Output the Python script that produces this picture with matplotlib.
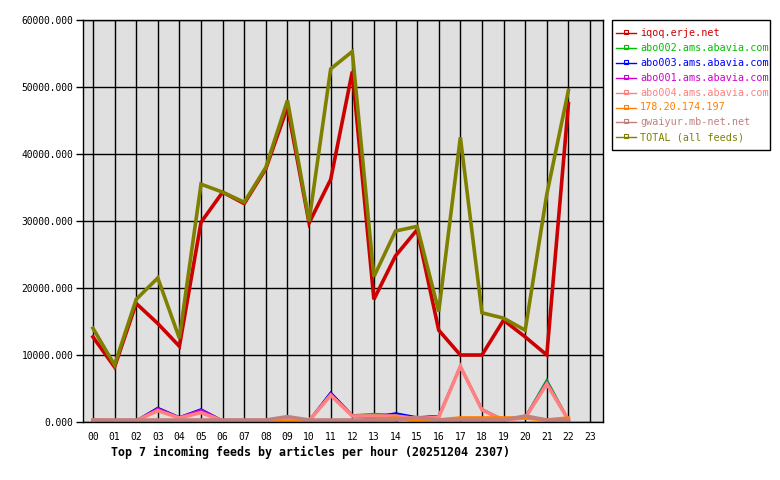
import matplotlib
matplotlib.use("Agg")
import matplotlib.pyplot as plt
from matplotlib.ticker import FixedLocator
from matplotlib.lines import Line2D
from matplotlib.patches import Rectangle

hours = list(range(23))
hour_labels = [f"{h:02d}" for h in range(24)]

iqoq = [12700, 8200, 17700, 14700, 11300, 29800, 34300, 32600, 37800, 47000, 29700, 36200,
        52300, 18300, 24800, 28700, 13700, 10000, 10000, 15200, 12700, 10000, 47500]
abo002 = [300, 200, 200, 2100, 700, 1800, 200, 200, 200, 300, 200, 4300,
          1000, 1200, 1100, 600, 800, 8300, 1900, 300, 700, 6300, 300]
abo003 = [300, 200, 200, 2100, 700, 1900, 200, 200, 200, 300, 200, 4400,
          1000, 700, 1300, 700, 900, 8300, 1900, 300, 700, 6000, 300]
abo001 = [300, 200, 200, 2000, 700, 1800, 200, 200, 200, 300, 200, 4200,
          900, 500, 800, 600, 900, 8200, 1800, 300, 700, 5900, 300]
abo004 = [300, 200, 200, 1700, 600, 1400, 200, 200, 200, 300, 200, 4000,
          900, 900, 900, 500, 700, 8300, 1800, 300, 600, 5700, 300]
ip178 = [0, 0, 0, 0, 0, 0, 0, 0, 0, 50, 50, 100,
         100, 300, 600, 200, 300, 600, 600, 600, 600, 300, 600]
gwaiyur = [300, 300, 300, 300, 300, 300, 300, 300, 300, 800, 300, 300,
           300, 300, 300, 700, 300, 300, 300, 300, 900, 300, 300]
total = [14000, 8500, 18300, 21500, 12500, 35500, 34300, 32800, 38000, 48000, 30000, 52700,
         55300, 21700, 28500, 29200, 16500, 42500, 16300, 15500, 13700, 34000, 49500]

series = [
    ("iqoq.erje.net", iqoq, "#cc0000", 2.6),
    ("abo002.ams.abavia.com", abo002, "#00c000", 1.6),
    ("abo003.ams.abavia.com", abo003, "#0000ff", 1.6),
    ("abo001.ams.abavia.com", abo001, "#d000d0", 1.6),
    ("abo004.ams.abavia.com", abo004, "#ff8080", 2.6),
    ("178.20.174.197", ip178, "#ff8000", 2.6),
    ("gwaiyur.mb-net.net", gwaiyur, "#c08080", 2.6),
    ("TOTAL (all feeds)", total, "#808000", 2.6),
]

W, H = 780, 480
mono = "DejaVu Sans Mono"
fig = plt.figure(figsize=(7.8, 4.8), dpi=100)
ax = fig.add_axes([83/W, 1-422/H, (603-83)/W, (422-20)/H])
ax.set_facecolor("#e0e0e0")

for name, vals, col, lw in series:
    ax.plot(hours, vals, color=col, lw=lw, label=name, solid_joinstyle="miter")

ax.set_xlim(-0.46, 23.6)
ax.set_ylim(0, 60000)
ax.xaxis.set_major_locator(FixedLocator(range(24)))
ax.set_xticklabels(hour_labels, fontfamily=mono, fontsize=7)
yt = [0, 10000, 20000, 30000, 40000, 50000, 60000]
ax.yaxis.set_major_locator(FixedLocator(yt))
ax.set_yticklabels([f"{v}.000" for v in yt], fontfamily=mono, fontsize=6.9)
ax.grid(True, color="black", lw=1)
ax.set_axisbelow(True)
ax.tick_params(axis="y", length=5, width=1, pad=2)
ax.tick_params(axis="x", length=0, pad=7)
for s in ax.spines.values():
    s.set_color("black")
    s.set_linewidth(1)

fig.text(111/W, 1-452/H, "Top 7 incoming feeds by articles per hour (20251204 2307)",
         fontfamily=mono, fontsize=8.4, fontweight="bold", ha="left", va="center")

# legend drawn manually in figure pixel coordinates
fig.patches.append(Rectangle((612/W, 1-150/H), (770-612)/W, (150-20)/H,
                             transform=fig.transFigure, facecolor="white",
                             edgecolor="black", lw=1))
for i, (name, _, col, _) in enumerate(series):
    yp = 33 + 14.9*i
    fig.add_artist(Line2D([616/W, 636/W], [1-yp/H, 1-yp/H], color=col, lw=1,
                          transform=fig.transFigure))
    fig.add_artist(Line2D([626/W], [1-(yp-1)/H], color=col, marker="s", markersize=2.5,
                          markerfacecolor="none", markeredgecolor=col, markeredgewidth=0.8,
                          transform=fig.transFigure))
    fig.text(640/W, 1-yp/H, name, color=col, fontfamily=mono, fontsize=7.3,
             ha="left", va="center")

fig.savefig("out.png", dpi=100, facecolor="white")
